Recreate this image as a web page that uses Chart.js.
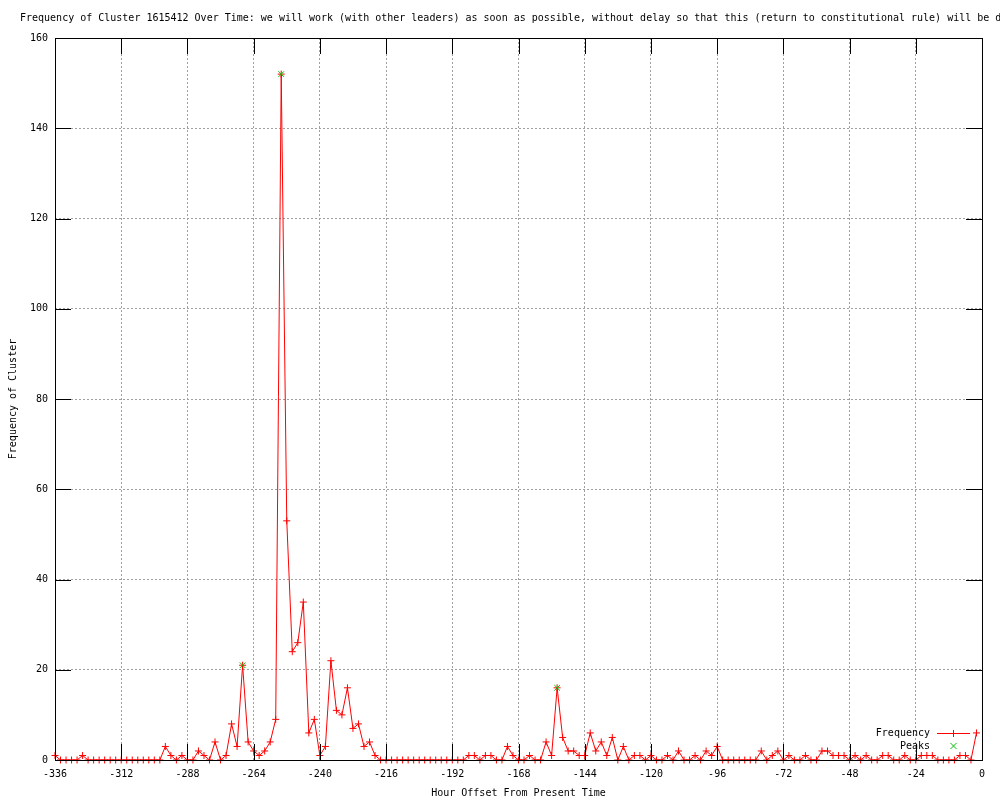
<!DOCTYPE html>
<html lang="en">
<head>
<meta charset="UTF-8">
<title>Frequency of Cluster 1615412 Over Time</title>
<script src="https://cdn.jsdelivr.net/npm/chart.js@4.4.1/dist/chart.umd.min.js"></script>
<style>
  html, body { margin: 0; padding: 0; background: #fff; }
  #chart { display: block; }
</style>
</head>
<body>
<canvas id="chart" width="1000" height="800"></canvas>
<script>
// hour offsets (2 hour bins)
const hours = [
  -336,-334,-332,-330,-328,-326,-324,-322,-320,-318,-316,-314,
  -312,-310,-308,-306,-304,-302,-300,-298,-296,-294,-292,-290,
  -288,-286,-284,-282,-280,-278,-276,-274,-272,-270,-268,-266,
  -264,-262,-260,-258,-256,-254,-252,-250,-248,-246,-244,-242,
  -240,-238,-236,-234,-232,-230,-228,-226,-224,-222,-220,-218,
  -216,-214,-212,-210,-208,-206,-204,-202,-200,-198,-196,-194,
  -192,-190,-188,-186,-184,-182,-180,-178,-176,-174,-172,-170,
  -168,-166,-164,-162,-160,-158,-156,-154,-152,-150,-148,-146,
  -144,-142,-140,-138,-136,-134,-132,-130,-128,-126,-124,-122,
  -120,-118,-116,-114,-112,-110,-108,-106,-104,-102,-100,-98,
  -96,-94,-92,-90,-88,-86,-84,-82,-80,-78,-76,-74,
  -72,-70,-68,-66,-64,-62,-60,-58,-56,-54,-52,-50,
  -48,-46,-44,-42,-40,-38,-36,-34,-32,-30,-28,-26,
  -24,-22,-20,-18,-16,-14,-12,-10,-8,-6,-4,-2
];
const frequency = [
  1,0,0,0,0,1,0,0,0,0,0,0,
  0,0,0,0,0,0,0,0,3,1,0,1,
  0,0,2,1,0,4,0,1,8,3,21,4,
  2,1,2,4,9,152,53,24,26,35,6,9,
  1,3,22,11,10,16,7,8,3,4,1,0,
  0,0,0,0,0,0,0,0,0,0,0,0,
  0,0,0,1,1,0,1,1,0,0,3,1,
  0,0,1,0,0,4,1,16,5,2,2,1,
  1,6,2,4,1,5,0,3,0,1,1,0,
  1,0,0,1,0,2,0,0,1,0,2,1,
  3,0,0,0,0,0,0,0,2,0,1,2,
  0,1,0,0,1,0,0,2,2,1,1,1,
  0,1,0,1,0,0,1,1,0,0,1,0,
  0,1,1,1,0,0,0,0,1,1,0,6
];
const peakHours = [-268, -254, -154];
const peakValues = [21, 152, 16];

const xTicks = [-336, -312, -288, -264, -240, -216, -192, -168, -144, -120, -96, -72, -48, -24, 0];
const yTicks = [0, 20, 40, 60, 80, 100, 120, 140, 160];

const titleText = 'Frequency of Cluster 1615412 Over Time: we will work (with other leaders) as soon as possible, without delay so that this (return to constitutional rule) will be done';

Chart.defaults.font.family = "'DejaVu Sans Mono', monospace";
Chart.defaults.font.size = 10;
Chart.defaults.color = '#000';

// title, box, inward ticks and key, drawn like gnuplot does
const gnuplotFrame = {
  id: 'gnuplotFrame',
  afterDatasetsDraw(chart) {
    const c = chart.ctx;
    const a = chart.chartArea;
    const xs = chart.scales.x;
    const ys = chart.scales.y;
    c.save();
    c.strokeStyle = '#000';
    c.lineWidth = 1;
    c.beginPath();
    xTicks.forEach(v => {
      const px = Math.round(xs.getPixelForValue(v)) + 0.5;
      c.moveTo(px, a.bottom); c.lineTo(px, a.bottom - 16);
      c.moveTo(px, a.top); c.lineTo(px, a.top + 16);
    });
    yTicks.forEach(v => {
      const py = Math.round(ys.getPixelForValue(v)) + 0.5;
      c.moveTo(a.left, py); c.lineTo(a.left + 16, py);
      c.moveTo(a.right, py); c.lineTo(a.right - 16, py);
    });
    c.stroke();
    c.strokeRect(Math.round(a.left) + 0.5, Math.round(a.top) + 0.5,
      Math.round(a.right - a.left), Math.round(a.bottom - a.top));
    c.restore();
  },
  afterDraw(chart) {
    const c = chart.ctx;
    c.save();
    c.font = "10px 'DejaVu Sans Mono', monospace";
    c.fillStyle = '#000';
    c.textBaseline = 'middle';
    c.textAlign = 'left';
    c.fillText(titleText, 20, 18);

    // key
    c.textAlign = 'right';
    c.fillText('Frequency', 930, 733);
    c.fillText('Peaks', 930, 746);
    c.strokeStyle = '#ff0000';
    c.lineWidth = 1;
    c.beginPath();
    c.moveTo(937, 733.5); c.lineTo(970, 733.5);
    c.moveTo(953.5, 730); c.lineTo(953.5, 737);
    c.stroke();
    c.strokeStyle = '#00c000';
    c.beginPath();
    c.moveTo(950.5, 743); c.lineTo(956.5, 749);
    c.moveTo(956.5, 743); c.lineTo(950.5, 749);
    c.stroke();
    c.restore();
  }
};

new Chart(document.getElementById('chart'), {
  type: 'line',
  data: {
    datasets: [
      {
        label: 'Peaks',
        data: peakHours.map((h, i) => ({ x: h, y: peakValues[i] })),
        showLine: false,
        pointStyle: 'crossRot',
        pointRadius: 4,
        borderColor: '#00c000',
        backgroundColor: '#00c000',
        borderWidth: 1,
        clip: false,
        order: 0
      },
      {
        label: 'Frequency',
        data: hours.map((h, i) => ({ x: h, y: frequency[i] })),
        borderColor: '#ff0000',
        backgroundColor: '#ff0000',
        borderWidth: 1,
        pointStyle: 'cross',
        pointRadius: 3.5,
        pointBorderWidth: 1,
        tension: 0,
        fill: false,
        clip: false,
        order: 1
      }
    ]
  },
  options: {
    responsive: false,
    animation: false,
    events: [],
    layout: { padding: { top: 38, right: 18, left: 0, bottom: 0 } },
    plugins: {
      legend: { display: false },
      tooltip: { enabled: false },
      title: { display: false }
    },
    scales: {
      x: {
        type: 'linear',
        min: -336,
        max: 0,
        afterBuildTicks: s => { s.ticks = xTicks.map(v => ({ value: v })); },
        afterFit: s => { s.height = 40; },
        grid: { color: '#a0a0a0', drawTicks: false },
        border: { display: false, dash: [2, 2] },
        ticks: { padding: 8, maxRotation: 0, autoSkip: false, color: '#000' },
        title: {
          display: true,
          text: 'Hour Offset From Present Time',
          padding: { top: 0, bottom: 1 },
          color: '#000'
        }
      },
      y: {
        min: 0,
        max: 160,
        afterBuildTicks: s => { s.ticks = yTicks.map(v => ({ value: v })); },
        afterFit: s => { s.width = 55; },
        grid: { color: '#a0a0a0', drawTicks: false },
        border: { display: false, dash: [2, 2] },
        ticks: { padding: 7, color: '#000' },
        title: {
          display: true,
          text: 'Frequency of Cluster',
          padding: { top: 7, bottom: 0 },
          color: '#000'
        }
      }
    }
  },
  plugins: [gnuplotFrame]
});
</script>
</body>
</html>
